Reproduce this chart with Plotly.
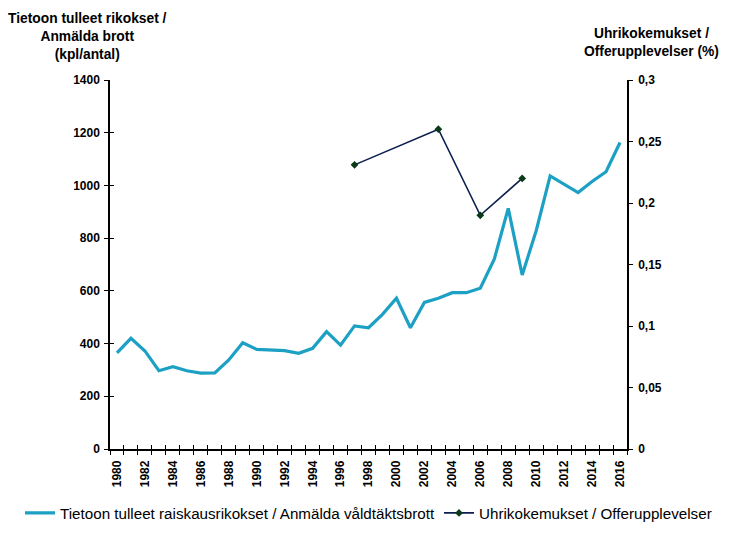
import plotly.graph_objects as go

years = list(range(1980, 2017))
reported = [365, 420, 372, 297, 312, 297, 288, 289, 338, 403, 378, 377, 373, 363, 382, 445, 394,
            467, 460, 511, 572, 460, 556, 572, 593, 593, 610, 720, 913, 660, 828, 1036, 1006, 973,
            1015, 1052, 1163]
victim_years = [1997, 2003, 2006, 2009]
victim_pct = [0.231, 0.260, 0.19, 0.22]

left_ticks = [0, 200, 400, 600, 800, 1000, 1200, 1400]
right_tickvals = [0, 0.05, 0.1, 0.15, 0.2, 0.25, 0.3]
right_ticktext = ["0", "0,05", "0,1", "0,15", "0,2", "0,25", "0,3"]
x_label_years = list(range(1980, 2017, 2))

name_reported = "Tietoon tulleet raiskausrikokset / Anmälda våldtäktsbrott"
name_victim = "Uhrikokemukset / Offerupplevelser"
left_title = "Tietoon tulleet rikokset /<br>Anmälda brott<br>(kpl/antal)"
right_title = "Uhrikokemukset /<br>Offerupplevelser (%)"

FONT = "Liberation Sans, Arial, sans-serif"
TICKFONT = dict(size=12, family=FONT, weight="bold", color="black")

W, H = 740, 543
PL, PT, PW, PH = 102, 72.3, 516.7, 368.4

fig = go.Figure()
fig.add_trace(go.Scatter(x=years, y=reported, name=name_reported, mode="lines",
                         line=dict(color="#1CA0C4", width=3.2), legend="legend"))
fig.add_trace(go.Scatter(x=victim_years, y=victim_pct, name=name_victim, mode="lines+markers",
                         yaxis="y2", line=dict(color="#0B1F4F", width=1.6),
                         marker=dict(symbol="diamond", size=6, color="#0A3A1A"),
                         legend="legend2"))
# invisible helper trace so the overlay axes (inner half of crossing ticks) are drawn
fig.add_trace(go.Scatter(x=[years[0]], y=[reported[0]], xaxis="x2", yaxis="y3",
                         mode="markers", marker=dict(opacity=0), showlegend=False,
                         hoverinfo="skip"))

legend_common = dict(orientation="h", xanchor="left", yref="container",
                     y=(H - 505) / H, yanchor="middle", xref="container",
                     font=dict(size=15.2, family=FONT, color="black"),
                     bgcolor="rgba(0,0,0,0)", borderwidth=0)

fig.update_layout(
    width=W, height=H,
    margin=dict(l=PL, r=W - PL - PW, t=PT, b=H - PT - PH, autoexpand=False),
    paper_bgcolor="white", plot_bgcolor="white",
    font=dict(family=FONT, color="black"),
    showlegend=True,
    legend=dict(x=12 / W, **legend_common),
    legend2=dict(x=431 / W, **legend_common),
    xaxis=dict(range=[1979.5, 2016.5], tickmode="array", tickvals=x_label_years,
               ticktext=[str(y) for y in x_label_years], tickangle=-90,
               ticks="", ticklen=0, ticklabelstandoff=5,
               showline=True, linecolor="black", linewidth=1.5,
               showgrid=False, zeroline=False, automargin=False,
               tickfont=TICKFONT,
               minor=dict(tick0=1979.5, dtick=1, ticks="outside", ticklen=4,
                          tickcolor="black", tickwidth=1.2, showgrid=False)),
    xaxis2=dict(range=[1979.5, 2016.5], overlaying="x", anchor="y", side="bottom",
                showticklabels=False, showline=False, showgrid=False, zeroline=False,
                tickmode="linear", tick0=1979.5, dtick=1, ticks="inside", ticklen=4,
                tickcolor="black", tickwidth=1.2, automargin=False),
    yaxis=dict(range=[0, 1400], tickmode="array", tickvals=left_ticks,
               ticks="outside", ticklen=4, tickcolor="black", tickwidth=1.2,
               ticklabelstandoff=2,
               showline=True, linecolor="black", linewidth=1.5, showgrid=False, zeroline=False,
               automargin=False, tickfont=TICKFONT),
    yaxis3=dict(range=[0, 1400], overlaying="y", anchor="x", side="left",
                tickmode="array", tickvals=left_ticks, showticklabels=False,
                ticks="inside", ticklen=4, tickcolor="black", tickwidth=1.2,
                showline=False, showgrid=False, zeroline=False, automargin=False),
    yaxis2=dict(range=[0, 0.3], overlaying="y", side="right", tickmode="array",
                tickvals=right_tickvals, ticktext=right_ticktext,
                ticks="outside", ticklen=4, tickcolor="black", tickwidth=1.2,
                ticklabelstandoff=3,
                showline=True, linecolor="black", linewidth=1.5, showgrid=False, zeroline=False,
                automargin=False, tickfont=TICKFONT),
    annotations=[
        dict(text=left_title, xref="paper", yref="paper", x=(88 - 110) / PW, y=1 + 71 / PH,
             xanchor="center", yanchor="top", showarrow=False, align="center",
             font=dict(size=13.8, family=FONT, weight="bold")),
        dict(text=right_title, xref="paper", yref="paper", x=(651 - 110) / PW, y=1 + 56 / PH,
             xanchor="center", yanchor="top", showarrow=False, align="center",
             font=dict(size=13.8, family=FONT, weight="bold")),
    ],
)

fig.write_html("out.html")
